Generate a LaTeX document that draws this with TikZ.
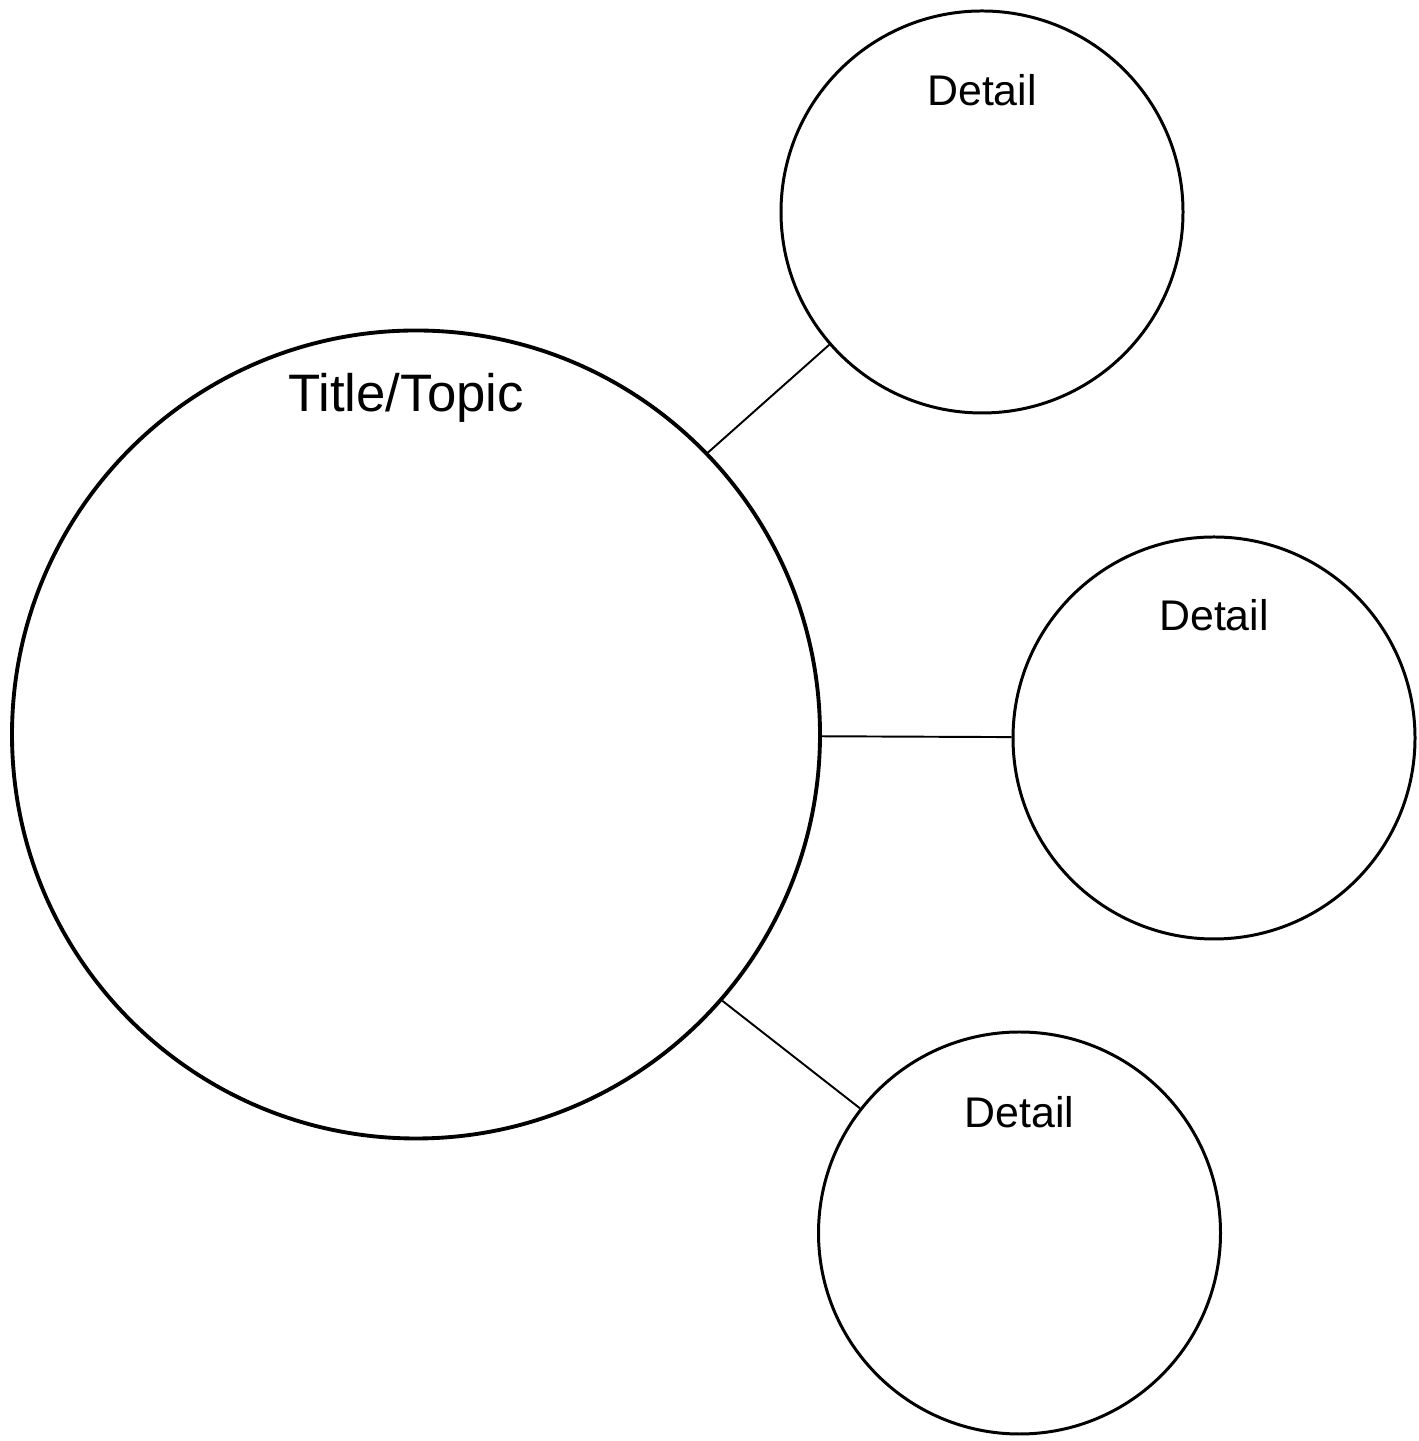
\documentclass[tikz,border=0pt]{standalone}
\usepackage{fontspec}
\setmainfont{Liberation Sans}
\usetikzlibrary{positioning}

\begin{document}
\begin{tikzpicture}[
		topic/.style={draw,circle,line width=2.2pt,minimum size=16.16cm,inner sep=0pt},
		detail/.style={draw,circle,line width=1.7pt,minimum size=8.04cm,inner sep=0pt},
		link/.style={line width=1.1pt}]
		\useasboundingbox (0,0) rectangle (28.36,28.82);
		\node[topic] (topic) at (8.32,14.13) {};
		\node[detail] (d1) at (19.64,24.58) {};
		\node[detail] (d2) at (24.28,14.06) {};
		\node[detail] (d3) at (20.39,4.16) {};
		\node[xshift=-0.2cm,yshift=-1.38cm,font=\fontsize{30}{34}\selectfont] (ttitle) at (topic.north) {Title/Topic};
		\node[yshift=-1.62cm,font=\fontsize{24.4}{28}\selectfont] (tdetail1) at (d1.north) {Detail};
		\node[yshift=-1.6cm,font=\fontsize{24.4}{28}\selectfont] (tdetail2) at (d2.north) {Detail};
		\node[yshift=-1.64cm,font=\fontsize{24.4}{28}\selectfont] (tdetail3) at (d3.north) {Detail};
		\draw[link] (topic.44) -- (d1.221);
		\draw[link] (topic) -- (d2);
		\draw[link] (topic.-41) -- (d3.142);
	\end{tikzpicture}
\end{document}
